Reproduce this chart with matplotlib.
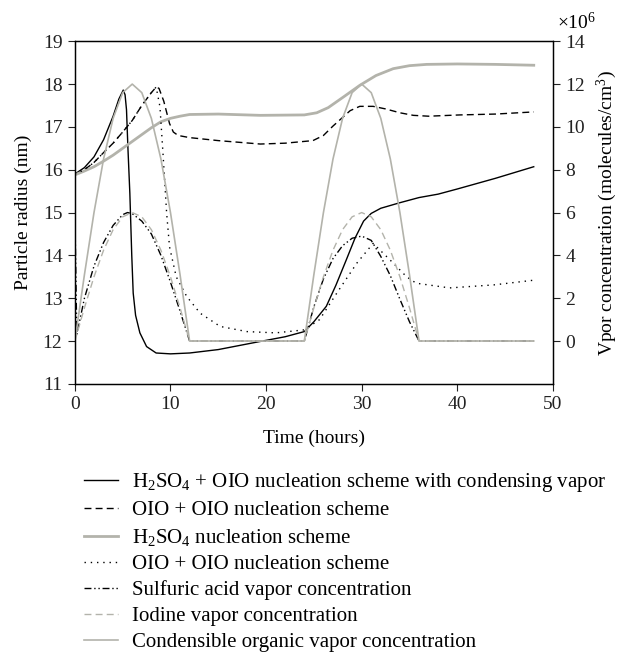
import matplotlib
matplotlib.use("Agg")
import matplotlib.pyplot as plt

plt.rcParams['font.family'] = ['Liberation Serif', 'DejaVu Serif']
plt.rcParams['mathtext.fontset'] = 'custom'
plt.rcParams['mathtext.rm'] = 'Liberation Serif'
plt.rcParams['mathtext.it'] = 'Liberation Serif:italic'

GRAY = '#b3b3ab'
FS = 14

# particle radius curves (nm)
t_h2so4_oio = [0, 1, 2, 3, 4, 4.6, 5.06, 5.25, 5.4, 5.55, 5.75, 5.95, 6.1, 6.35, 6.8, 7.5, 8.5,
               10, 12, 15, 19.4, 22, 24, 25, 26.3, 27.3, 28.4, 29.3, 30.2, 31, 32, 34, 36, 38,
               40, 44, 48]
r_h2so4_oio = [15.9, 16.05, 16.3, 16.7, 17.25, 17.65, 17.86, 17.75, 17.4, 16.5, 15.45, 14.0,
               13.12, 12.6, 12.19, 11.87, 11.72, 11.7, 11.72, 11.8, 11.99, 12.1, 12.22, 12.45,
               12.81, 13.3, 13.9, 14.4, 14.8, 14.98, 15.1, 15.23, 15.35, 15.43, 15.55, 15.8, 16.07]

t_oio = [0, 1, 2, 3, 4, 5, 6, 7, 8, 8.5, 8.8, 9.3, 9.9, 10.3, 10.8, 12, 15, 19.4, 22, 24.9, 26,
         27, 27.7, 28.8, 29.8, 31.2, 32.5, 34, 35.4, 37, 40.3, 44, 48]
r_oio = [15.9, 16.0, 16.17, 16.4, 16.62, 16.88, 17.15, 17.5, 17.8, 17.93, 17.9, 17.6, 17.08, 16.88,
         16.8, 16.75, 16.68, 16.6, 16.62, 16.68, 16.8, 17.02, 17.16, 17.38, 17.48, 17.48, 17.42,
         17.33, 17.27, 17.25, 17.28, 17.3, 17.35]

t_h2so4 = [0, 1, 2, 3, 4, 5, 6, 7, 8, 9, 10, 11, 12, 15, 19.4, 24, 25.3, 26.5, 28.1, 29.8, 31.5,
           33.3, 35, 36.8, 40, 44, 48]
r_h2so4 = [15.88, 15.97, 16.07, 16.2, 16.34, 16.5, 16.66, 16.82, 16.98, 17.12, 17.2, 17.25, 17.29,
           17.3, 17.27, 17.28, 17.33, 17.45, 17.7, 17.97, 18.2, 18.36, 18.43, 18.46, 18.47, 18.46,
           18.44]

t_oio2 = [0, 1, 2, 3, 4, 5, 6, 7, 8, 8.5, 8.9, 9.24, 9.6, 9.9, 10.6, 11.7, 13.1, 15.2, 18, 21,
          24, 25.6, 27.4, 29.5, 31.2, 33.3, 34.7, 35.7, 39.2, 43.8, 48]
r_oio2 = [15.9, 16.0, 16.17, 16.4, 16.62, 16.88, 17.15, 17.5, 17.8, 17.93, 17.47, 16.3, 14.98,
          14.2, 13.5, 13.04, 12.65, 12.34, 12.22, 12.19, 12.26, 12.5, 13.12, 13.82, 14.28, 13.82,
          13.5, 13.35, 13.24, 13.31, 13.42]

# vapor concentrations (x10^6 molecules/cm3)
t_sulf = [0, 0.2, 1, 2, 3, 4, 5, 5.5, 6, 7, 8, 9, 10, 11, 12, 24, 25, 26, 27, 28, 29, 30, 31, 32,
          33, 34, 35, 36, 48]
c_sulf = [6.0, 0.3, 2.0, 3.5, 4.6, 5.4, 5.9, 6.0, 5.95, 5.6, 5.0, 4.0, 2.75, 1.4, 0, 0, 1.6, 2.9,
          3.85, 4.45, 4.8, 4.9, 4.7, 3.95, 3.05, 1.95, 0.9, 0, 0]

t_day = [0, 1, 2, 3, 4, 5, 6, 7, 8, 9, 10, 11, 12, 24, 25, 26, 27, 28, 29, 30, 31, 32, 33, 34,
         35, 36, 48]
c_iodine = [0, 1.55, 3.0, 4.24, 5.2, 5.8, 6.0, 5.8, 5.2, 4.24, 3.0, 1.55, 0, 0, 1.55, 3.0, 4.24,
            5.2, 5.8, 6.0, 5.8, 5.2, 4.24, 3.0, 1.55, 0, 0]
c_organic = [0, 3.1, 6.0, 8.5, 10.4, 11.6, 12.0, 11.6, 10.4, 8.5, 6.0, 3.1, 0, 0, 3.1, 6.0, 8.5,
             10.4, 11.6, 12.0, 11.6, 10.4, 8.5, 6.0, 3.1, 0, 0]

fig = plt.figure(figsize=(6.24, 6.55), dpi=100)
ax = fig.add_axes([0.120, 0.414, 0.766, 0.523])
ax2 = ax.twinx()

h1, = ax.plot(t_h2so4_oio, r_h2so4_oio, color='black', lw=1.0,
              label='H$_2$SO$_4$ + OIO nucleation scheme with condensing vapor')
h2, = ax.plot(t_oio, r_oio, color='black', lw=1.0, ls=(0, (5, 3)),
              label='OIO + OIO nucleation scheme')
h3, = ax.plot(t_h2so4, r_h2so4, color=GRAY, lw=2.0, label='H$_2$SO$_4$ nucleation scheme')
h4, = ax.plot(t_oio2, r_oio2, color='black', lw=1.0, ls=(0, (1, 3.5)),
              label='OIO + OIO nucleation scheme')
h5, = ax2.plot(t_sulf, c_sulf, color='black', lw=1.0, ls=(0, (5, 2, 1, 2, 1, 2)),
               label='Sulfuric acid vapor concentration')
h6, = ax2.plot(t_day, c_iodine, color=GRAY, lw=1.0, ls=(0, (5, 3)),
               label='Iodine vapor concentration')
h7, = ax2.plot(t_day, c_organic, color=GRAY, lw=1.2, label='Condensible organic vapor concentration')

ax.set_xlim(0, 50)
ax.set_ylim(11, 19)
ax2.set_ylim(-2, 14)
ax.set_xticks(range(0, 51, 10))
ax.set_yticks(range(11, 20))
ax2.set_yticks(range(0, 15, 2))

for a in (ax, ax2):
    a.tick_params(direction='out', length=5, width=0.8, labelsize=FS, colors='#222222', pad=4)
    for s in a.spines.values():
        s.set_linewidth(0.9)

ax.set_xlabel('Time (hours)', fontsize=FS, labelpad=12)
ax.set_ylabel('Particle radius (nm)', fontsize=FS, labelpad=8)
ax2.set_ylabel('Vpor concentration (molecules/cm$^3$)', fontsize=FS, labelpad=7)
ax2.text(1.05, 1.025, r'$\times$10$^6$', transform=ax.transAxes, ha='center', va='bottom',
         fontsize=FS)

fig.legend(handles=[h1, h2, h3, h4, h5, h6, h7], loc='upper left',
           bbox_to_anchor=(0.122, 0.293), frameon=False, fontsize=15,
           handlelength=1.6, handletextpad=0.7, labelspacing=0.31, borderaxespad=0)

fig.savefig('out.png', dpi=100)
